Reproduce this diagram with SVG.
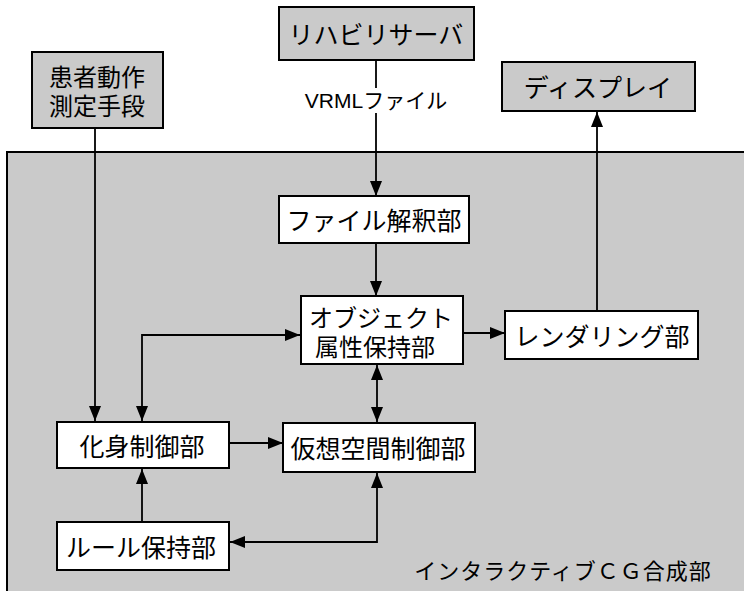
<svg xmlns="http://www.w3.org/2000/svg" width="744" height="591" viewBox="0 0 744 591">
<style>
  .shade { fill: #cacaca; stroke: #000; stroke-width: 2; }
  .white { fill: #fff; stroke: #000; stroke-width: 2; }
  .t { font-family: "Noto Sans CJK JP", "Liberation Sans", sans-serif; font-size: 25px; fill: #000; text-anchor: middle; dominant-baseline: central; }
  .lbl { font-family: "Liberation Sans", "Noto Sans CJK JP", sans-serif; font-size: 21px; fill: #000; }
  .con { fill: none; stroke: #000; stroke-width: 1.8; }
</style>
<defs>
  <marker id="ah" markerUnits="userSpaceOnUse" markerWidth="16" markerHeight="13" refX="15" refY="6" orient="auto-start-reverse">
    <path d="M0,0 L15,6 L0,12 z" fill="#000"/>
  </marker>
</defs>
<rect width="744" height="591" fill="#fff"/>

<g id="interactive-cg">
  <rect class="shade" x="7" y="152" width="760" height="460"/>
  <text class="t" x="563" y="569" style="font-size:22px;letter-spacing:1px">インタラクティブＣＧ合成部</text>
</g>

<g id="patient-sensor">
  <rect class="shade" x="32" y="52" width="131" height="76"/>
  <text class="t" x="97" y="75" style="font-size:24px"><tspan x="97" y="75">患者動作</tspan><tspan x="97" y="104">測定手段</tspan></text>
</g>

<g id="rehab-server">
  <rect class="shade" x="279" y="7" width="195" height="53"/>
  <text class="t" x="376" y="33">リハビリサーバ</text>
</g>

<g id="display">
  <rect class="shade" x="502" y="62" width="193" height="49"/>
  <text class="t" x="598" y="86">ディスプレイ</text>
</g>

<g id="file-parser">
  <rect class="white" x="279" y="196" width="190" height="47"/>
  <text class="t" x="374" y="219">ファイル解釈部</text>
</g>

<g id="object-attr">
  <rect class="white" x="301" y="296" width="162" height="68"/>
  <text class="t" x="381" y="316" style="font-size:24px"><tspan x="381" y="316">オブジェクト</tspan><tspan x="375" y="345">属性保持部</tspan></text>
</g>

<g id="renderer">
  <rect class="white" x="505" y="311" width="193" height="48"/>
  <text class="t" x="602" y="335">レンダリング部</text>
</g>

<g id="avatar-control">
  <rect class="white" x="57" y="422" width="172" height="46"/>
  <text class="t" x="142" y="445">化身制御部</text>
</g>

<g id="vspace-control">
  <rect class="white" x="283" y="423" width="192" height="49"/>
  <text class="t" x="378" y="447">仮想空間制御部</text>
</g>

<g id="rule-holder">
  <rect class="white" x="57" y="522" width="172" height="48"/>
  <text class="t" x="141" y="546">ルール保持部</text>
</g>

<g id="connectors">
  <line class="con" x1="95" y1="128" x2="95" y2="421" marker-end="url(#ah)"/>
  <line class="con" x1="376" y1="60" x2="376" y2="88"/>
  <line class="con" x1="376" y1="113" x2="376" y2="196" marker-end="url(#ah)"/>
  <text class="lbl" x="376" y="108" text-anchor="middle">VRMLファイル</text>
  <line class="con" x1="376" y1="243" x2="376" y2="296" marker-end="url(#ah)"/>
  <line class="con" x1="463" y1="333" x2="505" y2="333" marker-end="url(#ah)"/>
  <line class="con" x1="597" y1="311" x2="597" y2="112" marker-end="url(#ah)"/>
  <path class="con" d="M300,335 H142 V421" marker-start="url(#ah)" marker-end="url(#ah)"/>
  <line class="con" x1="377" y1="365" x2="377" y2="422" marker-start="url(#ah)" marker-end="url(#ah)"/>
  <line class="con" x1="229" y1="443" x2="283" y2="443" marker-end="url(#ah)"/>
  <line class="con" x1="142" y1="522" x2="142" y2="469" marker-end="url(#ah)"/>
  <path class="con" d="M377,473 V542 H230" marker-start="url(#ah)" marker-end="url(#ah)"/>
</g>
</svg>
